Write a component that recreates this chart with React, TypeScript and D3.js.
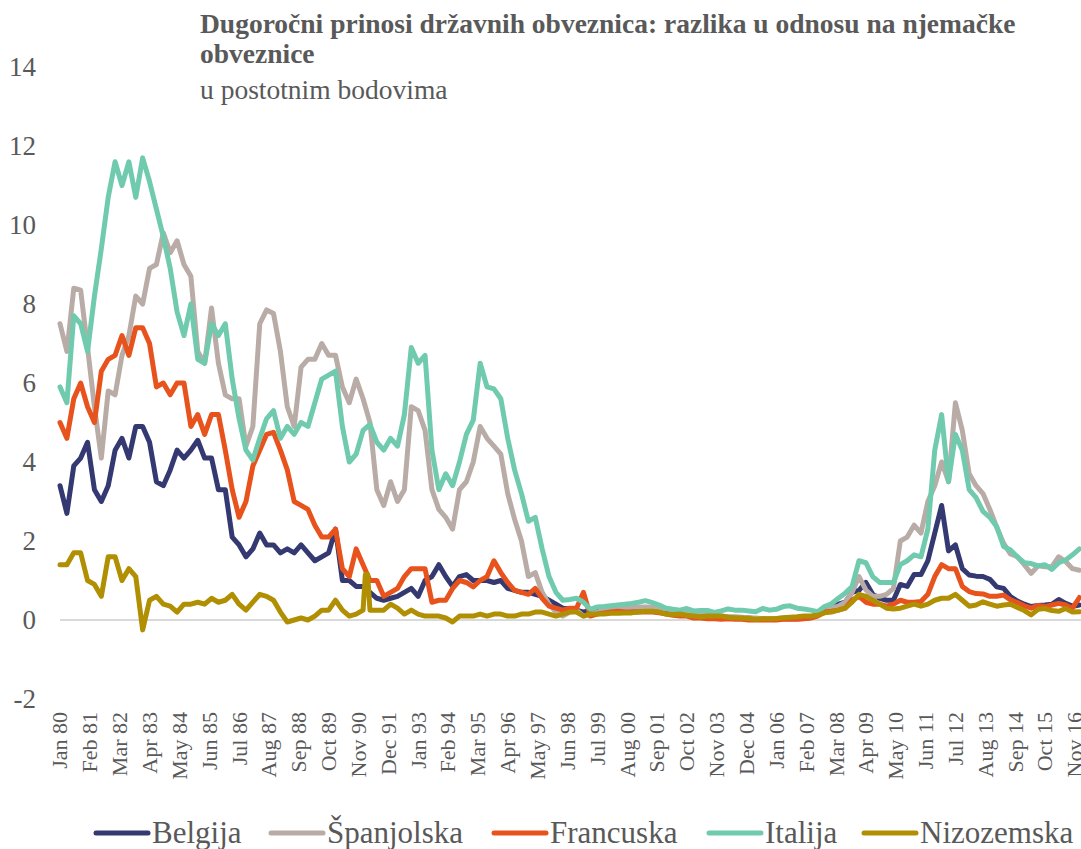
import React from 'react';
import * as d3 from 'd3';

// x categories: quarterly observations, months counted from Jan 1980
const quarterMonths: number[] = d3.range(0, 149).map((q) => q * 3);

const tickLabels = [
  'Jan 80', 'Feb 81', 'Mar 82', 'Apr 83', 'May 84', 'Jun 85', 'Jul 86', 'Aug 87', 'Sep 88',
  'Oct 89', 'Nov 90', 'Dec 91', 'Jan 93', 'Feb 94', 'Mar 95', 'Apr 96', 'May 97', 'Jun 98',
  'Jul 99', 'Aug 00', 'Sep 01', 'Oct 02', 'Nov 03', 'Dec 04', 'Jan 06', 'Feb 07', 'Mar 08',
  'Apr 09', 'May 10', 'Jun 11', 'Jul 12', 'Aug 13', 'Sep 14', 'Oct 15', 'Nov 16',
];
const tickStepMonths = 13;
const yTicks = [-2, 0, 2, 4, 6, 8, 10, 12, 14];

const belgija = [
  3.4, 2.7, 3.9, 4.1, 4.5, 3.3, 3.0, 3.4, 4.3, 4.6,
  4.1, 4.9, 4.9, 4.5, 3.5, 3.4, 3.8, 4.3, 4.1, 4.3,
  4.55, 4.1, 4.1, 3.3, 3.3, 2.1, 1.9, 1.6, 1.8, 2.2,
  1.9, 1.9, 1.7, 1.8, 1.7, 1.9, 1.7, 1.5, 1.6, 1.7,
  2.3, 1.0, 1.0, 0.85, 0.85, 0.7, 0.55, 0.5, 0.55, 0.6,
  0.7, 0.8, 0.6, 1.0, 1.1, 1.4, 1.1, 0.85, 1.1, 1.15,
  1.0, 1.0, 1.0, 0.95, 1.0, 0.8, 0.75, 0.7, 0.7, 0.65,
  0.6, 0.5, 0.4, 0.3, 0.28, 0.25, 0.2, 0.25, 0.27, 0.3,
  0.33, 0.35, 0.33, 0.32, 0.3, 0.32, 0.3, 0.28, 0.25, 0.22,
  0.2, 0.17, 0.12, 0.12, 0.1, 0.08, 0.07, 0.07, 0.06, 0.05,
  0.05, 0.03, 0.03, 0.02, 0.03, 0.04, 0.03, 0.03, 0.04, 0.06,
  0.15, 0.25, 0.35, 0.4, 0.45, 0.7, 0.75, 0.95, 0.65, 0.55,
  0.5, 0.5, 0.9, 0.85, 1.15, 1.15, 1.5, 2.2, 2.9, 1.75,
  1.9, 1.3, 1.14, 1.11, 1.1, 1.03, 0.84, 0.8, 0.59, 0.48,
  0.4, 0.34, 0.37, 0.38, 0.4, 0.52, 0.42, 0.35, 0.38,
];

const spanjolska = [
  7.5, 6.8, 8.4, 8.35, 6.9, 5.4, 4.1, 5.8, 5.7, 6.7,
  7.2, 8.2, 8.0, 8.9, 9.0, 9.8, 9.3, 9.6, 9.0, 8.7,
  6.8, 6.5, 7.9, 6.5, 5.7, 5.6, 5.6, 4.4, 4.9, 7.5,
  7.85, 7.76, 6.8, 5.4, 4.9, 6.4, 6.6, 6.6, 7.0, 6.7,
  6.7, 5.9, 5.5, 6.1, 5.6, 5.0, 3.3, 2.9, 3.5, 3.0,
  3.3, 5.4, 5.3, 4.8, 3.3, 2.8, 2.6, 2.3, 3.3, 3.5,
  4.0, 4.9, 4.6, 4.4, 4.2, 3.2, 2.55, 2.0, 1.1, 1.2,
  0.7, 0.4, 0.2, 0.1, 0.2, 0.25, 0.1, 0.15, 0.2, 0.25,
  0.28, 0.3, 0.3, 0.32, 0.32, 0.33, 0.32, 0.3, 0.28, 0.25,
  0.22, 0.2, 0.15, 0.15, 0.12, 0.1, 0.1, 0.08, 0.08, 0.07,
  0.05, 0.05, 0.03, 0.04, 0.03, 0.05, 0.05, 0.05, 0.06, 0.08,
  0.12, 0.2, 0.3, 0.35, 0.45, 0.7, 1.1, 0.76, 0.6, 0.6,
  0.65, 0.8, 2.0, 2.1, 2.4, 2.2, 3.0, 3.4, 4.0, 3.5,
  5.5, 4.8, 3.7, 3.4, 3.2, 2.8, 2.35, 1.94, 1.67, 1.6,
  1.4, 1.18, 1.37, 1.35, 1.35, 1.6, 1.48, 1.3, 1.26,
];

const francuska = [
  5.0, 4.6, 5.6, 6.0, 5.4, 5.0, 6.3, 6.6, 6.7, 7.2,
  6.7, 7.4, 7.4, 7.0, 5.9, 6.0, 5.7, 6.0, 6.0, 4.9,
  5.2, 4.7, 5.2, 5.2, 4.3, 3.3, 2.6, 3.0, 3.9, 4.3,
  4.7, 4.75, 4.3, 3.8, 3.0, 2.9, 2.8, 2.4, 2.1, 2.1,
  2.3, 1.3, 1.1, 1.8, 1.4, 1.0, 1.0, 0.6, 0.7, 0.8,
  1.1, 1.3, 1.3, 1.3, 0.45, 0.5, 0.5, 0.8, 1.0, 0.95,
  0.84, 1.0, 1.1, 1.5, 1.2, 0.95, 0.75, 0.7, 0.65, 0.8,
  0.55, 0.35, 0.3, 0.25, 0.3, 0.3, 0.7, 0.1, 0.15, 0.18,
  0.2, 0.22, 0.2, 0.2, 0.2, 0.2, 0.2, 0.18, 0.15, 0.12,
  0.1, 0.1, 0.05, 0.05, 0.03, 0.03, 0.02, 0.03, 0.02, 0.02,
  0.0, 0.0, 0.0, 0.0, 0.0, 0.02, 0.02, 0.02, 0.03, 0.05,
  0.1, 0.2, 0.22, 0.25, 0.3, 0.5, 0.6, 0.45, 0.4, 0.4,
  0.35, 0.4, 0.5, 0.45, 0.45, 0.47, 0.65, 1.1, 1.4, 1.3,
  1.3, 0.85, 0.72, 0.67, 0.66, 0.6, 0.6, 0.63, 0.51, 0.44,
  0.36, 0.3, 0.37, 0.34, 0.38, 0.42, 0.38, 0.3, 0.57,
];

const italija = [
  5.9, 5.5, 7.7, 7.5, 6.8, 8.2, 9.4, 10.7, 11.6, 11.0,
  11.6, 10.7, 11.7, 11.1, 10.4, 9.7, 8.9, 7.8, 7.2, 8.0,
  6.6, 6.5, 7.5, 7.2, 7.5, 6.1, 5.1, 4.3, 4.05, 4.6,
  5.1, 5.3, 4.6, 4.9, 4.7, 5.0, 4.9, 5.5, 6.1, 6.2,
  6.3, 4.9, 4.0, 4.2, 4.8, 4.95, 4.5, 4.3, 4.6, 4.4,
  5.2, 6.9, 6.5, 6.7, 4.3, 3.3, 3.7, 3.4, 4.0, 4.7,
  5.06, 6.5, 5.9, 5.85, 5.6, 4.6, 3.8, 3.2, 2.5, 2.6,
  1.8, 1.1, 0.7, 0.5, 0.52, 0.55, 0.45, 0.27, 0.33, 0.34,
  0.36, 0.38, 0.4, 0.42, 0.45, 0.49, 0.44, 0.38, 0.3, 0.27,
  0.25, 0.29, 0.23, 0.24, 0.24, 0.19, 0.23, 0.28, 0.25, 0.25,
  0.23, 0.21, 0.29, 0.25, 0.27, 0.34, 0.36, 0.3, 0.28, 0.25,
  0.21, 0.34, 0.41, 0.55, 0.68, 0.85, 1.5, 1.45, 1.1, 0.95,
  0.95, 0.95, 1.4, 1.5, 1.65, 1.6, 2.3, 4.3, 5.2, 3.5,
  4.7, 4.3, 3.3, 3.1, 2.75, 2.6, 2.36, 1.86, 1.77, 1.6,
  1.45, 1.43, 1.37, 1.4, 1.28, 1.45, 1.52, 1.65, 1.8,
];

const nizozemska = [
  1.4, 1.4, 1.7, 1.7, 1.0, 0.9, 0.6, 1.6, 1.6, 1.0,
  1.3, 1.1, -0.25, 0.5, 0.6, 0.4, 0.35, 0.2, 0.4, 0.4,
  0.45, 0.4, 0.55, 0.45, 0.5, 0.65, 0.4, 0.25, 0.45, 0.65,
  0.6, 0.5, 0.2, -0.05, 0.0, 0.05, 0.0, 0.1, 0.25, 0.25,
  0.5, 0.25, 0.1, 0.15, 0.25, 0.25, 0.25, 0.25, 0.4, 0.3,
  0.15, 0.25, 0.15, 0.1, 0.1, 0.1, 0.05, -0.05, 0.1, 0.1,
  0.1, 0.15, 0.1, 0.15, 0.15, 0.1, 0.1, 0.15, 0.15, 0.2,
  0.2, 0.15, 0.1, 0.15, 0.2, 0.2, 0.1, 0.15, 0.15, 0.15,
  0.17, 0.17, 0.18, 0.18, 0.2, 0.22, 0.22, 0.2, 0.15, 0.14,
  0.15, 0.12, 0.1, 0.08, 0.1, 0.1, 0.1, 0.07, 0.06, 0.05,
  0.04, 0.02, 0.03, 0.03, 0.04, 0.06, 0.07, 0.08, 0.1, 0.1,
  0.12, 0.18, 0.2, 0.25, 0.3, 0.45, 0.65, 0.6, 0.5, 0.4,
  0.3, 0.28, 0.3, 0.35, 0.4, 0.35, 0.4, 0.5, 0.55, 0.55,
  0.65, 0.5, 0.35, 0.38, 0.46, 0.4, 0.35, 0.38, 0.4, 0.32,
  0.24, 0.13, 0.27, 0.29, 0.24, 0.22, 0.29, 0.2, 0.21,
];
// short monthly spike in the Dutch series (Feb-Mar 1991)
const nizozemskaSpikeMonths = [133, 134];
const nizozemskaSpikeValues = [1.15, 1.15];

const seriesNames = ['Belgija', 'Španjolska', 'Francuska', 'Italija', 'Nizozemska'];
const seriesColors = ['#343a71', '#b9aca6', '#e8531d', '#6fcaae', '#b18f02'];

type Pt = { m: number; v: number };

const FONT = '"Liberation Serif", "Times New Roman", Times, serif';
const TEXT = '#595959';

export default function App() {
  const W = 1081;
  const H = 849;
  const x = d3.scaleLinear().domain([0, 442]).range([60, 1074.8]);
  const y = d3.scaleLinear().domain([-2, 14]).range([699, 67]);

  const toPts = (vals: number[]): Pt[] => vals.map((v, i) => ({ m: quarterMonths[i], v }));
  const nlPts = toPts(nizozemska)
    .concat(nizozemskaSpikeMonths.map((m, i) => ({ m, v: nizozemskaSpikeValues[i] })))
    .sort((a, b) => a.m - b.m);

  const data: Pt[][] = [toPts(belgija), toPts(spanjolska), toPts(francuska), toPts(italija), nlPts];

  const line = d3
    .line<Pt>()
    .x((d) => x(d.m))
    .y((d) => y(d.v));

  const legendLineX = [96, 271, 494, 709, 864];
  const legendY = 833;

  return (
    <svg
      width={W}
      height={H}
      style={{ position: 'absolute', left: 0, top: 0, background: '#fff' }}
      fontFamily={FONT}
    >
      <rect x={0} y={0} width={W} height={H} fill="#fff" />
      {/* title */}
      <text x={200} y={33} fill={TEXT} fontSize={27.5} fontWeight="bold">
        Dugoročni prinosi državnih obveznica: razlika u odnosu na njemačke
      </text>
      <text x={200} y={63} fill={TEXT} fontSize={27.5} fontWeight="bold">
        obveznice
      </text>
      <text x={200} y={99} fill={TEXT} fontSize={27.5}>
        u postotnim bodovima
      </text>

      {/* y axis labels */}
      {yTicks.map((t) => (
        <text key={t} x={36} y={y(t)} dy="0.34em" textAnchor="end" fill={TEXT} fontSize={27}>
          {t}
        </text>
      ))}

      {/* zero line */}
      <line x1={60} x2={W} y1={y(0)} y2={y(0)} stroke="#d9d9d9" strokeWidth={2} />

      {/* series */}
      {data.map((pts, i) => (
        <path
          key={seriesNames[i]}
          d={line(pts) || ''}
          fill="none"
          stroke={seriesColors[i]}
          strokeWidth={5}
          strokeLinejoin="round"
          strokeLinecap="round"
        />
      ))}

      {/* x axis labels */}
      {tickLabels.map((lab, i) => {
        const xx = x(i * tickStepMonths);
        return (
          <text
            key={lab}
            transform={`translate(${xx},712) rotate(-90)`}
            dy="0.34em"
            textAnchor="end"
            fill={TEXT}
            fontSize={22}
          >
            {lab}
          </text>
        );
      })}

      {/* legend */}
      {seriesNames.map((n, i) => (
        <g key={n}>
          <line
            x1={legendLineX[i]}
            x2={legendLineX[i] + 52}
            y1={legendY}
            y2={legendY}
            stroke={seriesColors[i]}
            strokeWidth={5}
            strokeLinecap="round"
          />
          <text x={legendLineX[i] + 56} y={legendY + 10} fill={TEXT} fontSize={31}>
            {n}
          </text>
        </g>
      ))}
    </svg>
  );
}
